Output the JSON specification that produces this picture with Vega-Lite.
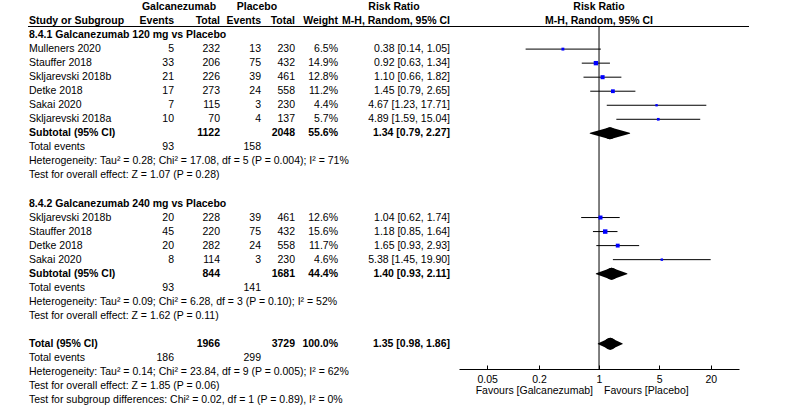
{
  "$schema": "https://vega.github.io/schema/vega-lite/v6.json",
  "width": 800,
  "height": 414,
  "padding": 0,
  "autosize": "none",
  "background": "white",
  "config": {
    "view": {"stroke": null},
    "text": {"font": "Liberation Sans", "fontSize": 10.5, "baseline": "middle", "color": "#000"}
  },
  "datasets": {
    "table": [
      {"row": 1, "kind": "header", "label": "Study or Subgroup", "e1": "Events", "n1": "Total", "e2": "Events", "n2": "Total", "ci": "M-H, Random, 95% CI"},
      {"row": 2, "kind": "group", "label": "8.4.1 Galcanezumab 120 mg vs Placebo"},
      {"row": 3, "kind": "study", "label": "Mulleners 2020", "e1": 5, "n1": 232, "e2": 13, "n2": 230, "w": 0.065, "rr": 0.38, "lo": 0.14, "hi": 1.05, "ci": "0.38 [0.14, 1.05]"},
      {"row": 4, "kind": "study", "label": "Stauffer 2018", "e1": 33, "n1": 206, "e2": 75, "n2": 432, "w": 0.149, "rr": 0.92, "lo": 0.63, "hi": 1.34, "ci": "0.92 [0.63, 1.34]"},
      {"row": 5, "kind": "study", "label": "Skljarevski 2018b", "e1": 21, "n1": 226, "e2": 39, "n2": 461, "w": 0.128, "rr": 1.10, "lo": 0.66, "hi": 1.82, "ci": "1.10 [0.66, 1.82]"},
      {"row": 6, "kind": "study", "label": "Detke 2018", "e1": 17, "n1": 273, "e2": 24, "n2": 558, "w": 0.112, "rr": 1.45, "lo": 0.79, "hi": 2.65, "ci": "1.45 [0.79, 2.65]"},
      {"row": 7, "kind": "study", "label": "Sakai 2020", "e1": 7, "n1": 115, "e2": 3, "n2": 230, "w": 0.044, "rr": 4.67, "lo": 1.23, "hi": 17.71, "ci": "4.67 [1.23, 17.71]"},
      {"row": 8, "kind": "study", "label": "Skljarevski 2018a", "e1": 10, "n1": 70, "e2": 4, "n2": 137, "w": 0.057, "rr": 4.89, "lo": 1.59, "hi": 15.04, "ci": "4.89 [1.59, 15.04]"},
      {"row": 9, "kind": "subtotal", "label": "Subtotal (95% CI)", "n1": 1122, "n2": 2048, "w": 0.556, "rr": 1.34, "lo": 0.79, "hi": 2.27, "ci": "1.34 [0.79, 2.27]"},
      {"row": 10, "kind": "events", "label": "Total events", "e1": 93, "e2": 158},
      {"row": 11, "kind": "note", "label": "Heterogeneity: Tau² = 0.28; Chi² = 17.08, df = 5 (P = 0.004); I² = 71%"},
      {"row": 12, "kind": "note", "label": "Test for overall effect: Z = 1.07 (P = 0.28)"},
      {"row": 14, "kind": "group", "label": "8.4.2 Galcanezumab 240 mg vs Placebo"},
      {"row": 15, "kind": "study", "label": "Skljarevski 2018b", "e1": 20, "n1": 228, "e2": 39, "n2": 461, "w": 0.126, "rr": 1.04, "lo": 0.62, "hi": 1.74, "ci": "1.04 [0.62, 1.74]"},
      {"row": 16, "kind": "study", "label": "Stauffer 2018", "e1": 45, "n1": 220, "e2": 75, "n2": 432, "w": 0.156, "rr": 1.18, "lo": 0.85, "hi": 1.64, "ci": "1.18 [0.85, 1.64]"},
      {"row": 17, "kind": "study", "label": "Detke 2018", "e1": 20, "n1": 282, "e2": 24, "n2": 558, "w": 0.117, "rr": 1.65, "lo": 0.93, "hi": 2.93, "ci": "1.65 [0.93, 2.93]"},
      {"row": 18, "kind": "study", "label": "Sakai 2020", "e1": 8, "n1": 114, "e2": 3, "n2": 230, "w": 0.046, "rr": 5.38, "lo": 1.45, "hi": 19.90, "ci": "5.38 [1.45, 19.90]"},
      {"row": 19, "kind": "subtotal", "label": "Subtotal (95% CI)", "n1": 844, "n2": 1681, "w": 0.444, "rr": 1.40, "lo": 0.93, "hi": 2.11, "ci": "1.40 [0.93, 2.11]"},
      {"row": 20, "kind": "events", "label": "Total events", "e1": 93, "e2": 141},
      {"row": 21, "kind": "note", "label": "Heterogeneity: Tau² = 0.09; Chi² = 6.28, df = 3 (P = 0.10); I² = 52%"},
      {"row": 22, "kind": "note", "label": "Test for overall effect: Z = 1.62 (P = 0.11)"},
      {"row": 24, "kind": "total", "label": "Total (95% CI)", "n1": 1966, "n2": 3729, "w": 1.0, "rr": 1.35, "lo": 0.98, "hi": 1.86, "ci": "1.35 [0.98, 1.86]"},
      {"row": 25, "kind": "events", "label": "Total events", "e1": 186, "e2": 299},
      {"row": 26, "kind": "note", "label": "Heterogeneity: Tau² = 0.14; Chi² = 23.84, df = 9 (P = 0.005); I² = 62%"},
      {"row": 27, "kind": "note", "label": "Test for overall effect: Z = 1.85 (P = 0.06)"},
      {"row": 28, "kind": "note", "label": "Test for subgroup differences: Chi² = 0.02, df = 1 (P = 0.89), I² = 0%"}
    ],
    "heads": [
      {"row": 0, "col": "g1", "text": "Galcanezumab"},
      {"row": 0, "col": "g2", "text": "Placebo"},
      {"row": 0, "col": "rr", "text": "Risk Ratio"},
      {"row": 1, "col": "w", "text": "Weight"},
      {"row": 0, "col": "plot", "text": "Risk Ratio"},
      {"row": 1, "col": "plot", "text": "M-H, Random, 95% CI"}
    ]
  },
  "data": {"name": "table"},
  "resolve": {"scale": {"size": "independent"}},
  "layer": [
    {
      "transform": [{"filter": {"field": "kind", "oneOf": ["study", "events", "note"]}}],
      "mark": {"type": "text", "align": "left"},
      "encoding": {"x": {"value": 29}, "y": {"field": "row", "type": "quantitative", "scale": {"domain": [0, 28], "range": [7, 400], "nice": false, "zero": false}, "axis": null}, "text": {"field": "label", "type": "nominal"}}
    },
    {
      "transform": [{"filter": {"field": "kind", "oneOf": ["header", "group", "subtotal", "total"]}}],
      "mark": {"type": "text", "align": "left", "fontWeight": "bold"},
      "encoding": {"x": {"value": 29}, "y": {"field": "row", "type": "quantitative", "scale": {"domain": [0, 28], "range": [7, 400], "nice": false, "zero": false}, "axis": null}, "text": {"field": "label", "type": "nominal"}}
    },
    {
      "transform": [{"filter": {"field": "kind", "oneOf": ["study", "events"]}}],
      "mark": {"type": "text", "align": "right"},
      "encoding": {"x": {"value": 174}, "y": {"field": "row", "type": "quantitative", "scale": {"domain": [0, 28], "range": [7, 400], "nice": false, "zero": false}, "axis": null}, "text": {"field": "e1", "type": "nominal"}}
    },
    {
      "transform": [{"filter": {"field": "kind", "oneOf": ["header"]}}],
      "mark": {"type": "text", "align": "right", "fontWeight": "bold"},
      "encoding": {"x": {"value": 174}, "y": {"field": "row", "type": "quantitative", "scale": {"domain": [0, 28], "range": [7, 400], "nice": false, "zero": false}, "axis": null}, "text": {"field": "e1", "type": "nominal"}}
    },
    {
      "transform": [{"filter": {"field": "kind", "oneOf": ["study"]}}],
      "mark": {"type": "text", "align": "right"},
      "encoding": {"x": {"value": 220}, "y": {"field": "row", "type": "quantitative", "scale": {"domain": [0, 28], "range": [7, 400], "nice": false, "zero": false}, "axis": null}, "text": {"field": "n1", "type": "nominal"}}
    },
    {
      "transform": [{"filter": {"field": "kind", "oneOf": ["header", "subtotal", "total"]}}],
      "mark": {"type": "text", "align": "right", "fontWeight": "bold"},
      "encoding": {"x": {"value": 220}, "y": {"field": "row", "type": "quantitative", "scale": {"domain": [0, 28], "range": [7, 400], "nice": false, "zero": false}, "axis": null}, "text": {"field": "n1", "type": "nominal"}}
    },
    {
      "transform": [{"filter": {"field": "kind", "oneOf": ["study", "events"]}}],
      "mark": {"type": "text", "align": "right"},
      "encoding": {"x": {"value": 261}, "y": {"field": "row", "type": "quantitative", "scale": {"domain": [0, 28], "range": [7, 400], "nice": false, "zero": false}, "axis": null}, "text": {"field": "e2", "type": "nominal"}}
    },
    {
      "transform": [{"filter": {"field": "kind", "oneOf": ["header"]}}],
      "mark": {"type": "text", "align": "right", "fontWeight": "bold"},
      "encoding": {"x": {"value": 261}, "y": {"field": "row", "type": "quantitative", "scale": {"domain": [0, 28], "range": [7, 400], "nice": false, "zero": false}, "axis": null}, "text": {"field": "e2", "type": "nominal"}}
    },
    {
      "transform": [{"filter": {"field": "kind", "oneOf": ["study"]}}],
      "mark": {"type": "text", "align": "right"},
      "encoding": {"x": {"value": 295}, "y": {"field": "row", "type": "quantitative", "scale": {"domain": [0, 28], "range": [7, 400], "nice": false, "zero": false}, "axis": null}, "text": {"field": "n2", "type": "nominal"}}
    },
    {
      "transform": [{"filter": {"field": "kind", "oneOf": ["header", "subtotal", "total"]}}],
      "mark": {"type": "text", "align": "right", "fontWeight": "bold"},
      "encoding": {"x": {"value": 295}, "y": {"field": "row", "type": "quantitative", "scale": {"domain": [0, 28], "range": [7, 400], "nice": false, "zero": false}, "axis": null}, "text": {"field": "n2", "type": "nominal"}}
    },
    {
      "transform": [{"filter": {"field": "kind", "oneOf": ["study"]}}],
      "mark": {"type": "text", "align": "right"},
      "encoding": {"x": {"value": 338}, "y": {"field": "row", "type": "quantitative", "scale": {"domain": [0, 28], "range": [7, 400], "nice": false, "zero": false}, "axis": null}, "text": {"field": "w", "type": "quantitative", "format": ".1%"}}
    },
    {
      "transform": [{"filter": {"field": "kind", "oneOf": ["subtotal", "total"]}}],
      "mark": {"type": "text", "align": "right", "fontWeight": "bold"},
      "encoding": {"x": {"value": 338}, "y": {"field": "row", "type": "quantitative", "scale": {"domain": [0, 28], "range": [7, 400], "nice": false, "zero": false}, "axis": null}, "text": {"field": "w", "type": "quantitative", "format": ".1%"}}
    },
    {
      "transform": [{"filter": {"field": "kind", "oneOf": ["study"]}}],
      "mark": {"type": "text", "align": "right"},
      "encoding": {"x": {"value": 450}, "y": {"field": "row", "type": "quantitative", "scale": {"domain": [0, 28], "range": [7, 400], "nice": false, "zero": false}, "axis": null}, "text": {"field": "ci", "type": "nominal"}}
    },
    {
      "transform": [{"filter": {"field": "kind", "oneOf": ["header", "subtotal", "total"]}}],
      "mark": {"type": "text", "align": "right", "fontWeight": "bold"},
      "encoding": {"x": {"value": 450}, "y": {"field": "row", "type": "quantitative", "scale": {"domain": [0, 28], "range": [7, 400], "nice": false, "zero": false}, "axis": null}, "text": {"field": "ci", "type": "nominal"}}
    },
    {
      "data": {"name": "heads"},
      "transform": [{"filter": {"field": "col", "equal": "g1"}}],
      "mark": {"type": "text", "align": "center", "fontWeight": "bold"},
      "encoding": {"x": {"value": 179}, "y": {"field": "row", "type": "quantitative", "scale": {"domain": [0, 28], "range": [7, 400], "nice": false, "zero": false}, "axis": null}, "text": {"field": "text", "type": "nominal"}}
    },
    {
      "data": {"name": "heads"},
      "transform": [{"filter": {"field": "col", "equal": "g2"}}],
      "mark": {"type": "text", "align": "center", "fontWeight": "bold"},
      "encoding": {"x": {"value": 257}, "y": {"field": "row", "type": "quantitative", "scale": {"domain": [0, 28], "range": [7, 400], "nice": false, "zero": false}, "axis": null}, "text": {"field": "text", "type": "nominal"}}
    },
    {
      "data": {"name": "heads"},
      "transform": [{"filter": {"field": "col", "equal": "rr"}}],
      "mark": {"type": "text", "align": "center", "fontWeight": "bold"},
      "encoding": {"x": {"value": 394}, "y": {"field": "row", "type": "quantitative", "scale": {"domain": [0, 28], "range": [7, 400], "nice": false, "zero": false}, "axis": null}, "text": {"field": "text", "type": "nominal"}}
    },
    {
      "data": {"name": "heads"},
      "transform": [{"filter": {"field": "col", "equal": "w"}}],
      "mark": {"type": "text", "align": "right", "fontWeight": "bold"},
      "encoding": {"x": {"value": 338}, "y": {"field": "row", "type": "quantitative", "scale": {"domain": [0, 28], "range": [7, 400], "nice": false, "zero": false}, "axis": null}, "text": {"field": "text", "type": "nominal"}}
    },
    {
      "data": {"name": "heads"},
      "transform": [{"filter": {"field": "col", "equal": "plot"}}],
      "mark": {"type": "text", "align": "center", "fontWeight": "bold"},
      "encoding": {"x": {"datum": 1, "type": "quantitative", "scale": {"type": "log", "domain": [0.0235, 42.5], "range": [459, 739], "nice": false}}, "y": {"field": "row", "type": "quantitative", "scale": {"domain": [0, 28], "range": [7, 400], "nice": false, "zero": false}, "axis": null}, "text": {"field": "text", "type": "nominal"}}
    },
    {
      "data": {"values": [{}]},
      "mark": {"type": "rule", "color": "#000", "strokeWidth": 1},
      "encoding": {"x": {"value": 28}, "x2": {"value": 749}, "y": {"datum": 1.39, "type": "quantitative", "scale": {"domain": [0, 28], "range": [7, 400], "nice": false, "zero": false}, "axis": null}}
    },
    {
      "data": {"values": [{}]},
      "mark": {"type": "rule", "color": "#000", "strokeWidth": 1},
      "encoding": {"x": {"datum": 1, "type": "quantitative", "scale": {"type": "log", "domain": [0.0235, 42.5], "range": [459, 739], "nice": false}}, "y": {"datum": 1.39, "type": "quantitative", "scale": {"domain": [0, 28], "range": [7, 400], "nice": false, "zero": false}, "axis": null}, "y2": {"datum": 25.79}}
    },
    {
      "transform": [{"filter": {"field": "kind", "equal": "study"}}],
      "mark": {"type": "rule", "color": "#000", "strokeWidth": 1},
      "encoding": {
        "x": {"field": "lo", "type": "quantitative", "scale": {"type": "log", "domain": [0.0235, 42.5], "range": [459, 739], "nice": false},
          "axis": {"values": [0.05, 0.2, 1, 5, 20], "format": "~g", "title": null, "orient": "bottom", "offset": -45, "grid": false, "domainColor": "#000", "domainWidth": 1, "tickColor": "#000", "tickWidth": 1, "tickSize": -4, "labelPadding": 9, "labelFont": "Liberation Sans", "labelFontSize": 10.5, "labelColor": "#000", "labelFlush": false, "labelOverlap": false}},
        "x2": {"field": "hi"},
        "y": {"field": "row", "type": "quantitative", "scale": {"domain": [0, 28], "range": [7, 400], "nice": false, "zero": false}, "axis": null}
      }
    },
    {
      "transform": [{"filter": {"field": "kind", "equal": "study"}}],
      "mark": {"type": "square", "color": "#0000ff", "filled": true, "opacity": 1},
      "encoding": {
        "x": {"field": "rr", "type": "quantitative", "scale": {"type": "log", "domain": [0.0235, 42.5], "range": [459, 739], "nice": false}},
        "y": {"field": "row", "type": "quantitative", "scale": {"domain": [0, 28], "range": [7, 400], "nice": false, "zero": false}, "axis": null},
        "size": {"field": "w", "type": "quantitative", "scale": {"domain": [0, 0.156], "range": [0, 20]}, "legend": null}
      }
    },
    {
      "transform": [{"filter": {"field": "kind", "oneOf": ["subtotal", "total"]}}, {"fold": ["lo", "rr"], "as": ["k", "v"]}],
      "mark": {"type": "trail", "color": "#000"},
      "encoding": {
        "x": {"field": "v", "type": "quantitative", "scale": {"type": "log", "domain": [0.0235, 42.5], "range": [459, 739], "nice": false}},
        "y": {"field": "row", "type": "quantitative", "scale": {"domain": [0, 28], "range": [7, 400], "nice": false, "zero": false}, "axis": null},
        "detail": {"field": "row", "type": "nominal"},
        "order": {"field": "v", "type": "quantitative"},
        "size": {"field": "k", "type": "ordinal", "scale": {"domain": ["lo", "rr"], "range": [0, 12]}, "legend": null}
      }
    },
    {
      "transform": [{"filter": {"field": "kind", "oneOf": ["subtotal", "total"]}}, {"fold": ["rr", "hi"], "as": ["k", "v"]}],
      "mark": {"type": "trail", "color": "#000"},
      "encoding": {
        "x": {"field": "v", "type": "quantitative", "scale": {"type": "log", "domain": [0.0235, 42.5], "range": [459, 739], "nice": false}},
        "y": {"field": "row", "type": "quantitative", "scale": {"domain": [0, 28], "range": [7, 400], "nice": false, "zero": false}, "axis": null},
        "detail": {"field": "row", "type": "nominal"},
        "order": {"field": "v", "type": "quantitative"},
        "size": {"field": "k", "type": "ordinal", "scale": {"domain": ["hi", "rr"], "range": [0, 12]}, "legend": null}
      }
    },
    {
      "data": {"values": [{}]},
      "mark": {"type": "text", "align": "right", "dx": -6},
      "encoding": {"x": {"datum": 1, "type": "quantitative", "scale": {"type": "log", "domain": [0.0235, 42.5], "range": [459, 739], "nice": false}}, "y": {"datum": 27.35, "type": "quantitative", "scale": {"domain": [0, 28], "range": [7, 400], "nice": false, "zero": false}, "axis": null}, "text": {"value": "Favours [Galcanezumab]"}}
    },
    {
      "data": {"values": [{}]},
      "mark": {"type": "text", "align": "left", "dx": 5},
      "encoding": {"x": {"datum": 1, "type": "quantitative", "scale": {"type": "log", "domain": [0.0235, 42.5], "range": [459, 739], "nice": false}}, "y": {"datum": 27.35, "type": "quantitative", "scale": {"domain": [0, 28], "range": [7, 400], "nice": false, "zero": false}, "axis": null}, "text": {"value": "Favours [Placebo]"}}
    }
  ]
}
